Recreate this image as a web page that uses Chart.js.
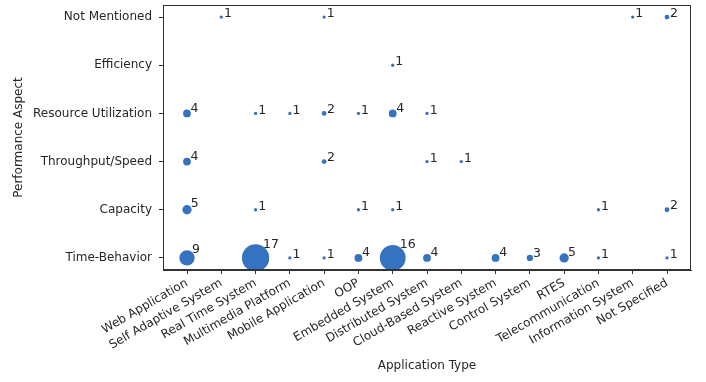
<!DOCTYPE html>
<html>
<head>
<meta charset="utf-8">
<script src="https://cdn.jsdelivr.net/npm/chart.js@4"></script>
<style>
  html, body { margin: 0; padding: 0; background: #fff; }
  canvas { display: block; }
</style>
</head>
<body>
<canvas id="chart" width="706" height="382"></canvas>
<script>
const appTypes = [
  'Web Application', 'Self Adaptive System', 'Real Time System', 'Multimedia Platform',
  'Mobile Application', 'OOP', 'Embedded System', 'Distributed System',
  'Cloud-Based System', 'Reactive System', 'Control System', 'RTES',
  'Telecommunication', 'Information System', 'Not Specified'
];
const aspects = [
  'Time-Behavior', 'Capacity', 'Throughput/Speed',
  'Resource Utilization', 'Efficiency', 'Not Mentioned'
];

// counts per aspect, one value per application type (0 = no paper)
const timeBehavior = [9, 0, 17, 1, 1, 4, 16, 4, 0, 4, 3, 5, 1, 0, 1];
const capacity     = [5, 0, 1, 0, 0, 1, 1, 0, 0, 0, 0, 0, 1, 0, 2];
const throughput   = [4, 0, 0, 0, 2, 0, 0, 1, 1, 0, 0, 0, 0, 0, 0];
const resourceUtil = [4, 0, 1, 1, 2, 1, 4, 1, 0, 0, 0, 0, 0, 0, 0];
const efficiency   = [0, 0, 0, 0, 0, 0, 1, 0, 0, 0, 0, 0, 0, 0, 0];
const notMentioned = [0, 1, 0, 0, 1, 0, 0, 0, 0, 0, 0, 0, 0, 1, 2];

const countRows = [timeBehavior, capacity, throughput, resourceUtil, efficiency, notMentioned];

const BLUE = '#3572bf';
const INK = '#262626';
const FRAME = '#333333';
const FONT = 'DejaVu Sans';

const sizeOf = n => 0.75 * n + 0.9;

const points = [];
countRows.forEach((row, yi) => {
  row.forEach((n, xi) => {
    if (n > 0) points.push({ x: xi, y: yi, r: sizeOf(n), n: n });
  });
});

/* frame round the plot area */
const framePlugin = {
  id: 'frame',
  afterDraw(chart) {
    const { ctx, chartArea: a } = chart;
    ctx.save();
    ctx.strokeStyle = FRAME;
    ctx.lineWidth = 1;
    ctx.strokeRect(Math.round(a.left) + 0.5, Math.round(a.top) + 0.5,
      Math.round(a.right - a.left) - 1, Math.round(a.bottom - a.top) - 1);
    ctx.restore();
  }
};

/* count next to every bubble */
const countLabels = {
  id: 'countLabels',
  afterDatasetsDraw(chart) {
    const ctx = chart.ctx;
    const meta = chart.getDatasetMeta(0);
    ctx.save();
    ctx.fillStyle = INK;
    ctx.font = '12.5px "' + FONT + '"';
    ctx.textAlign = 'left';
    ctx.textBaseline = 'alphabetic';
    meta.data.forEach((el, i) => {
      const p = chart.data.datasets[0].data[i];
      ctx.fillText(String(p.n), el.x + 2 + 0.4 * p.r, el.y + 1.5 - 0.85 * p.r);
    });
    ctx.restore();
  }
};

new Chart(document.getElementById('chart'), {
  type: 'bubble',
  data: {
    datasets: [{
      data: points,
      backgroundColor: BLUE,
      borderColor: BLUE,
      borderWidth: 0
    }]
  },
  options: {
    responsive: false,
    animation: false,
    devicePixelRatio: 1,
    layout: { autoPadding: false, padding: { left: 0, right: 15, top: 5, bottom: 0 } },
    plugins: {
      legend: { display: false },
      tooltip: { enabled: false }
    },
    scales: {
      x: {
        type: 'linear',
        min: -0.7,
        max: 14.7,
        afterBuildTicks: s => { s.ticks = appTypes.map((_, i) => ({ value: i })); },
        afterFit: s => { s.height = 112; s.paddingLeft = 0; s.paddingRight = 0; },
        ticks: {
          callback: v => appTypes[v],
          autoSkip: false,
          maxRotation: 30,
          minRotation: 30,
          padding: 2,
          color: INK,
          font: { family: FONT, size: 12 }
        },
        grid: { drawOnChartArea: false, drawTicks: true, tickLength: 4, color: FRAME },
        border: { color: FRAME, width: 1 },
        title: {
          display: true,
          text: 'Application Type',
          color: INK,
          font: { family: FONT, size: 12 },
          padding: { top: 0, bottom: 9 }
        }
      },
      y: {
        type: 'linear',
        min: -0.25,
        max: 5.25,
        afterBuildTicks: s => { s.ticks = aspects.map((_, i) => ({ value: i })); },
        afterFit: s => { s.width = 163; s.paddingTop = 0; s.paddingBottom = 0; },
        ticks: {
          callback: v => aspects[v],
          autoSkip: false,
          padding: 7,
          color: INK,
          font: { family: FONT, size: 12 }
        },
        grid: { drawOnChartArea: false, drawTicks: true, tickLength: 4, color: FRAME },
        border: { color: FRAME, width: 1 },
        title: {
          display: true,
          text: 'Performance Aspect',
          color: INK,
          font: { family: FONT, size: 12 },
          padding: { top: 12, bottom: 0 }
        }
      }
    }
  },
  plugins: [framePlugin, countLabels]
});
</script>
</body>
</html>
